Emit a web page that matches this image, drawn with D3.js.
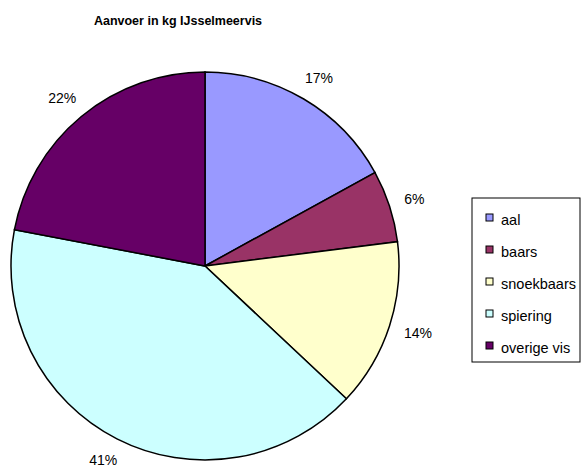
<!DOCTYPE html>
<html>
<head>
<meta charset="utf-8">
<script src="https://cdn.jsdelivr.net/npm/d3@7"></script>
<style>
  body { margin: 0; background: #fff; }
  text { font-family: "Liberation Sans", Arial, sans-serif; fill: #000; }
</style>
</head>
<body>
<div id="chart"></div>
<script>
var categories = ["aal", "baars", "snoekbaars", "spiering", "overige vis"];
var shares = [17, 6, 14, 41, 22];
var colors = ["#9999FF", "#993366", "#FFFFCC", "#CCFFFF", "#660066"];

var width = 583, height = 466;
var cx = 205, cy = 266, radius = 194;

var svg = d3.select("#chart").append("svg")
    .attr("width", width)
    .attr("height", height);

svg.append("text")
    .attr("x", 178)
    .attr("y", 25)
    .attr("text-anchor", "middle")
    .style("font-size", "12.5px")
    .style("font-weight", "bold")
    .text("Aanvoer in kg IJsselmeervis");

var data = categories.map(function(c, i) { return {name: c, value: shares[i], color: colors[i]}; });

var pie = d3.pie()
    .sort(null)
    .value(function(d) { return d.value; });

var arc = d3.arc()
    .innerRadius(0)
    .outerRadius(radius);

var g = svg.append("g").attr("transform", "translate(" + cx + "," + cy + ")");

var slices = g.selectAll(".slice")
    .data(pie(data))
    .enter().append("g")
    .attr("class", "slice");

slices.append("path")
    .attr("d", arc)
    .style("fill", function(d) { return d.data.color; })
    .style("stroke", "#000")
    .style("stroke-width", "1.5px");

// labels: box pushed outward from the rim, like excel does it
var gap = 16;
slices.append("text")
    .attr("text-anchor", "middle")
    .attr("dy", "0.35em")
    .style("font-size", "14px")
    .text(function(d) { return d.data.value + "%"; })
    .attr("transform", function(d) {
        var bb = this.getBBox();
        var a = (d.startAngle + d.endAngle) / 2;
        var dx = Math.sin(a), dy = -Math.cos(a);
        var x = dx * (radius + gap) + dx * bb.width / 2;
        var y = dy * (radius + gap) + dy * bb.height / 2;
        return "translate(" + x + "," + y + ")";
    });

// legend
var legend = svg.append("g").attr("transform", "translate(472,198)");

legend.append("rect")
    .attr("width", 108)
    .attr("height", 164)
    .style("fill", "#fff")
    .style("stroke", "#000")
    .style("stroke-width", "1px");

var item = legend.selectAll(".item")
    .data(data)
    .enter().append("g")
    .attr("class", "item")
    .attr("transform", function(d, i) { return "translate(0," + (23 + i * 32) + ")"; });

item.append("rect")
    .attr("x", 14)
    .attr("y", -7)
    .attr("width", 7)
    .attr("height", 7)
    .style("fill", function(d) { return d.color; })
    .style("stroke", "#000")
    .style("stroke-width", "1px");

item.append("text")
    .attr("x", 29)
    .attr("y", 4)
    .style("font-size", "14.5px")
    .text(function(d) { return d.name; });
</script>
</body>
</html>
